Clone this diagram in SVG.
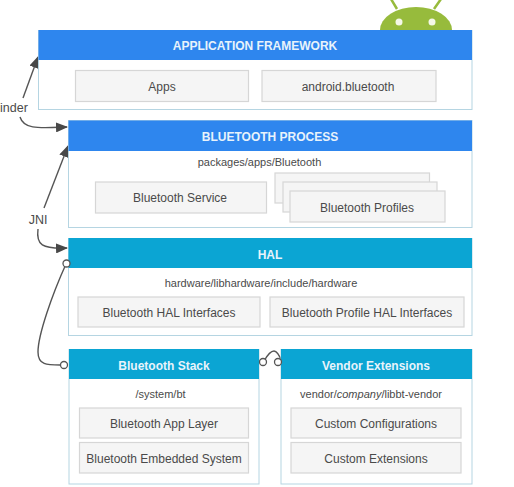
<svg xmlns="http://www.w3.org/2000/svg" width="514" height="487" viewBox="0 0 514 487">
<style>
text{font-family:"Liberation Sans",Arial,sans-serif;font-size:12px;fill:#4a4a4a;text-anchor:middle}
.t{font-weight:bold;fill:#e8f3fb}
.s{font-size:11px}
.b{fill:#fff;stroke:#b5d5e2;stroke-width:1}
.blue{fill:#2e86ee}
.teal{fill:#0ba5d3}
.i{fill:#f5f5f5;stroke:#d6d6d6;stroke-width:1.2}
.c{fill:none;stroke:#555;stroke-width:1.4}
.o{fill:#fff;stroke:#555;stroke-width:1.3}
.l{font-size:12.5px}
</style>
<defs><marker id="a" markerWidth="12" markerHeight="10" refX="11" refY="5" orient="auto" markerUnits="userSpaceOnUse"><path d="M0 0L12 5L0 10Z" fill="#484848"/></marker></defs>
<g id="android">
<path d="M380 30A36 23 0 0 1 452 30Z" fill="#97bb3c"/>
<path d="M397 9L391 -1M434 9L441 -1" stroke="#97bb3c" stroke-width="2.5" fill="none"/>
<circle cx="399" cy="22" r="3.5" fill="#f4f8e8"/><circle cx="432" cy="22" r="3.5" fill="#f4f8e8"/>
</g>
<g id="connectors">
<path class="c" d="M23 98L38 57" marker-end="url(#a)"/>
<path class="c" d="M20 117C24 130 40 128 67 127" marker-end="url(#a)"/>
<path class="c" d="M44 208L68 146" marker-end="url(#a)"/>
<path class="c" d="M38 229C36 245 42 249 67 248" marker-end="url(#a)"/>
<path class="c" d="M66 264C52 295 38 335 38 352C38 366 48 365 64 365"/>
<path class="c" d="M264 361C268 354 271 351 274 351C277 351 279 354 282 362"/>
</g>
<g id="binder-label"><text x="14" y="112" class="l">inder</text></g>
<g id="jni-label"><text x="38" y="224" class="l">JNI</text></g>
<g id="application-framework">
<rect class="b" x="38.5" y="30.5" width="433.5" height="79"/><rect class="blue" x="38.5" y="30" width="433.5" height="30"/>
<text class="t" x="255" y="50">APPLICATION FRAMEWORK</text>
<rect class="i" x="75.5" y="70.5" width="173" height="31"/><text x="162" y="91">Apps</text>
<rect class="i" x="262" y="70.5" width="174" height="31"/><text x="348" y="91">android.bluetooth</text>
</g>
<g id="bluetooth-process">
<rect class="b" x="68.5" y="120.5" width="403.5" height="107"/><rect class="blue" x="68.5" y="120.5" width="403.5" height="30.5"/>
<text class="t" x="270" y="141">BLUETOOTH PROCESS</text>
<text class="s" x="259.500" y="166">packages/apps/Bluetooth</text>
<rect class="i" x="95.5" y="182" width="171" height="31"/><text x="180" y="202">Bluetooth Service</text>
<rect class="i" x="275" y="173" width="154.500" height="30"/><rect class="i" x="283" y="182" width="154" height="30"/><rect class="i" x="290" y="191" width="155" height="31"/>
<text x="367" y="212">Bluetooth Profiles</text>
</g>
<g id="hal">
<rect class="b" x="68.500" y="238.500" width="403.500" height="97"/><rect class="teal" x="68.500" y="238" width="403.500" height="30"/>
<text class="t" x="270" y="259">HAL</text>
<text class="s" x="261" y="287">hardware/libhardware/include/hardware</text>
<rect class="i" x="78" y="297" width="182" height="30"/><text x="169" y="317">Bluetooth HAL Interfaces</text>
<rect class="i" x="270" y="297" width="194" height="30"/><text x="367" y="317">Bluetooth Profile HAL Interfaces</text>
</g>
<g id="bluetooth-stack">
<rect class="b" x="69" y="349.500" width="190" height="134.500"/><rect class="teal" x="69" y="349" width="190" height="30"/>
<text class="t" x="164" y="370">Bluetooth Stack</text>
<text class="s" x="160.500" y="398">/system/bt</text>
<rect class="i" x="79.500" y="408" width="169" height="30"/><text x="164" y="428">Bluetooth App Layer</text>
<rect class="i" x="79.500" y="442.500" width="169" height="30.500"/><text x="164" y="463">Bluetooth Embedded System</text>
</g>
<g id="vendor-extensions">
<rect class="b" x="281" y="349.500" width="191" height="134.500"/><rect class="teal" x="281" y="349" width="191" height="30"/>
<text class="t" x="376" y="370">Vendor Extensions</text>
<text class="s" x="371" y="398">vendor/<tspan font-style="italic">company</tspan>/libbt-vendor</text>
<rect class="i" x="291" y="408" width="170" height="30"/><text x="376" y="428">Custom Configurations</text>
<rect class="i" x="291" y="442.500" width="170" height="30.500"/><text x="376" y="463">Custom Extensions</text>
</g>
<g id="endpoints">
<circle class="o" cx="66.500" cy="263.500" r="3.500"/><circle class="o" cx="64" cy="365" r="3.500"/>
<circle class="o" cx="263" cy="362" r="3.500"/><circle class="o" cx="278" cy="362" r="3.500"/>
</g>
</svg>
